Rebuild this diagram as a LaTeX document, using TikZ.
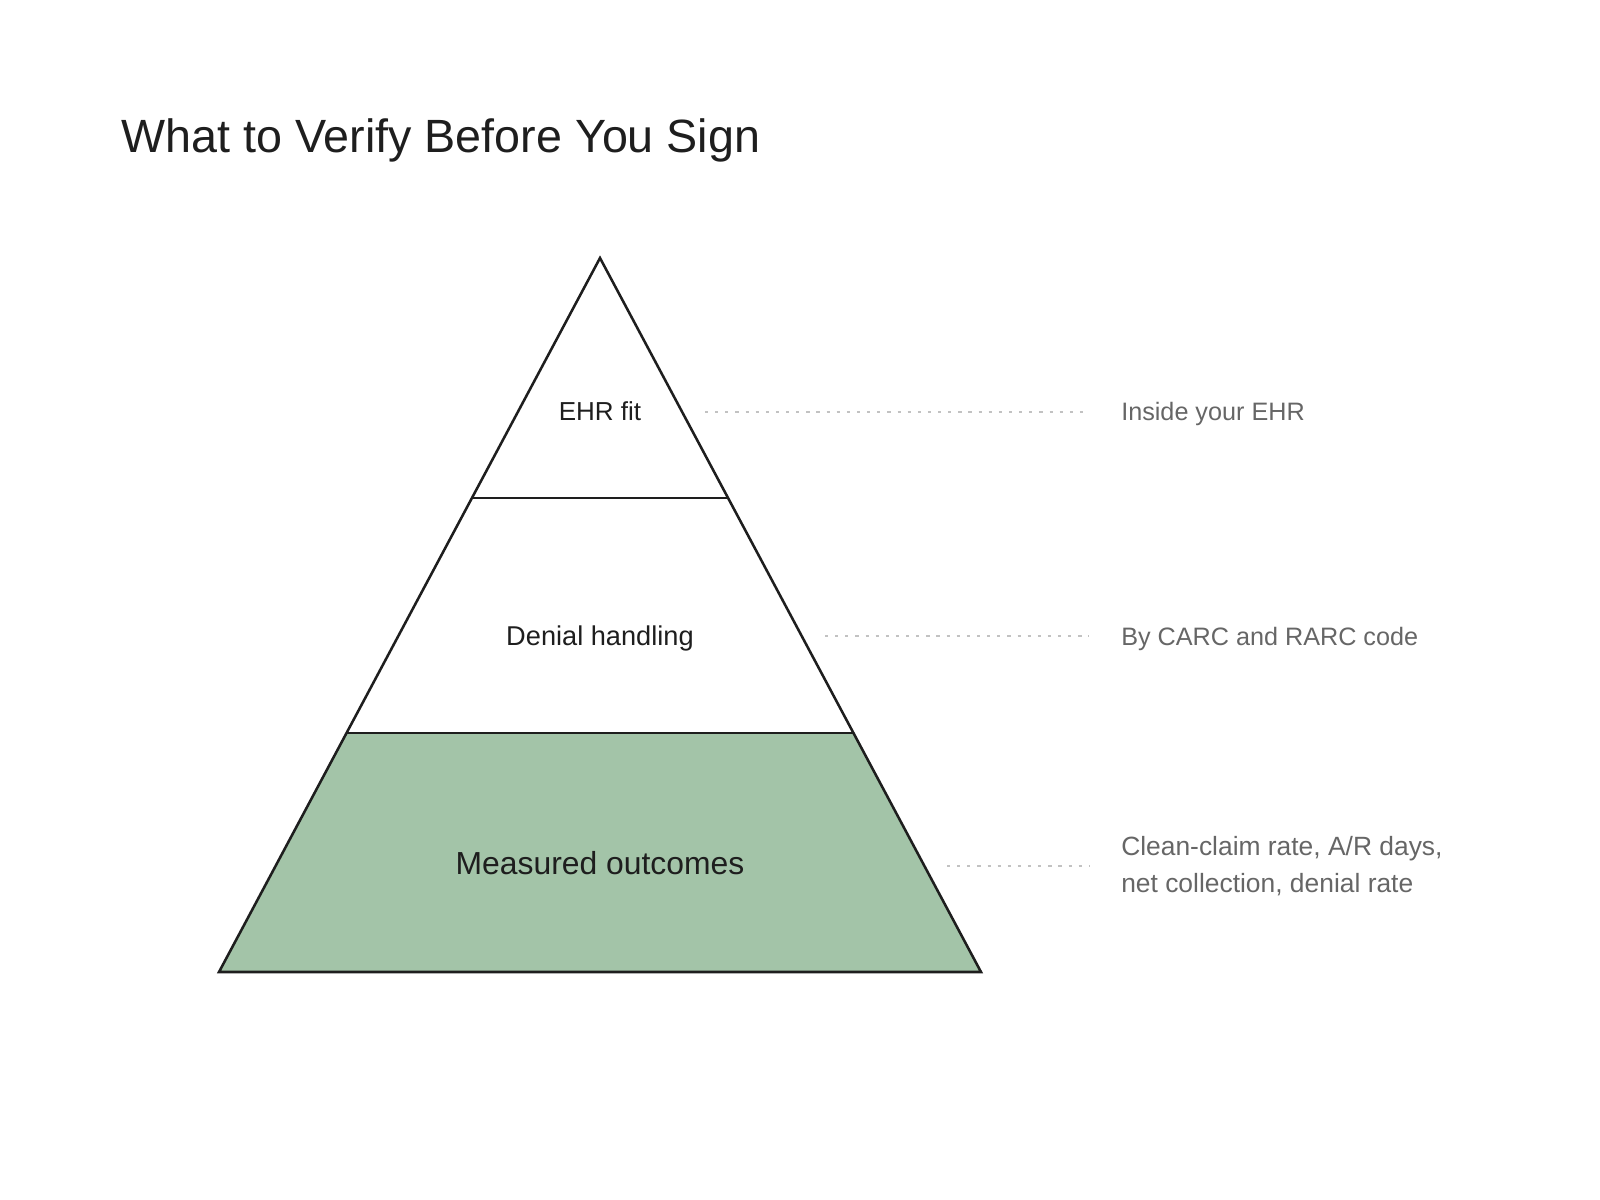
\documentclass[tikz,border=0pt]{standalone}
\usepackage{fontspec}
\setmainfont{Liberation Sans}
\definecolor{ink}{HTML}{1E1E1E}
\definecolor{tiergreen}{HTML}{A3C4A8}
\definecolor{notegray}{HTML}{666666}
\definecolor{dotgray}{HTML}{C2C2C2}
\tikzset{
  outline/.style={draw=ink, line width=1.9pt, line join=miter},
  divider/.style={draw=ink, line width=1.5pt},
  leader/.style={draw=dotgray, line width=1.1pt, dash pattern=on 2.4pt off 5.2pt},
  tierlabel/.style={text=ink, font=\fontsize{19.5pt}{23pt}\selectfont, anchor=base, inner sep=0pt},
  biglabel/.style={text=ink, font=\fontsize{23.9pt}{28pt}\selectfont, anchor=base, inner sep=0pt},
  note/.style={text=notegray, font=\fontsize{18.9pt}{27.5pt}\selectfont, anchor=base west, inner sep=0pt, align=left},
}
\begin{document}
\begin{tikzpicture}[x=0.75pt,y=-0.75pt]
\useasboundingbox (0,0) rectangle (1600,1200);
% pyramid geometry
\coordinate (apex) at (600,258);
\coordinate (bl) at (219,972);
\coordinate (br) at (981,972);
\coordinate (d1l) at (472.5,497.5);
\coordinate (d1r) at (727.5,497.5);
\coordinate (d2l) at (347,733);
\coordinate (d2r) at (853,733);
% fill bottom tier
\fill[tiergreen] (d2l) -- (d2r) -- (br) -- (bl) -- cycle;
% dividers
\draw[divider] (d1l) -- (d1r);
\draw[divider] (d2l) -- (d2r);
% outline
\draw[outline] (apex) -- (br) -- (bl) -- cycle;
% title
\node[text=ink, font=\fontsize{35pt}{40pt}\selectfont, anchor=base west, inner sep=0pt] (title) at (121,152) {What to Verify Before You Sign};
% tier labels
\node[tierlabel] (t1) at (600,420) {EHR fit};
\node[tierlabel, font=\fontsize{20.4pt}{24pt}\selectfont] (t2) at (600,645) {Denial handling};
\node[biglabel] (t3) at (600,874) {Measured outcomes};
% notes
\node[note] (n1) at (1121,420) {Inside your EHR};
\node[note] (n2) at (1121,645) {By CARC and RARC code};
\node[note, font=\fontsize{19.8pt}{27.5pt}\selectfont] (n3) at (1121,892) {Clean-claim rate, A/R days,\\net collection, denial rate};
% leaders
\coordinate (l1a) at (705,412);  \coordinate (l1b) at (1089,412);
\coordinate (l2a) at (825,636);  \coordinate (l2b) at (1089,636);
\coordinate (l3a) at (947,866);  \coordinate (l3b) at (1089,866);
\draw[leader] (l1a) -- (l1b);
\draw[leader] (l2a) -- (l2b);
\draw[leader] (l3a) -- (l3b);
\end{tikzpicture}
\end{document}
